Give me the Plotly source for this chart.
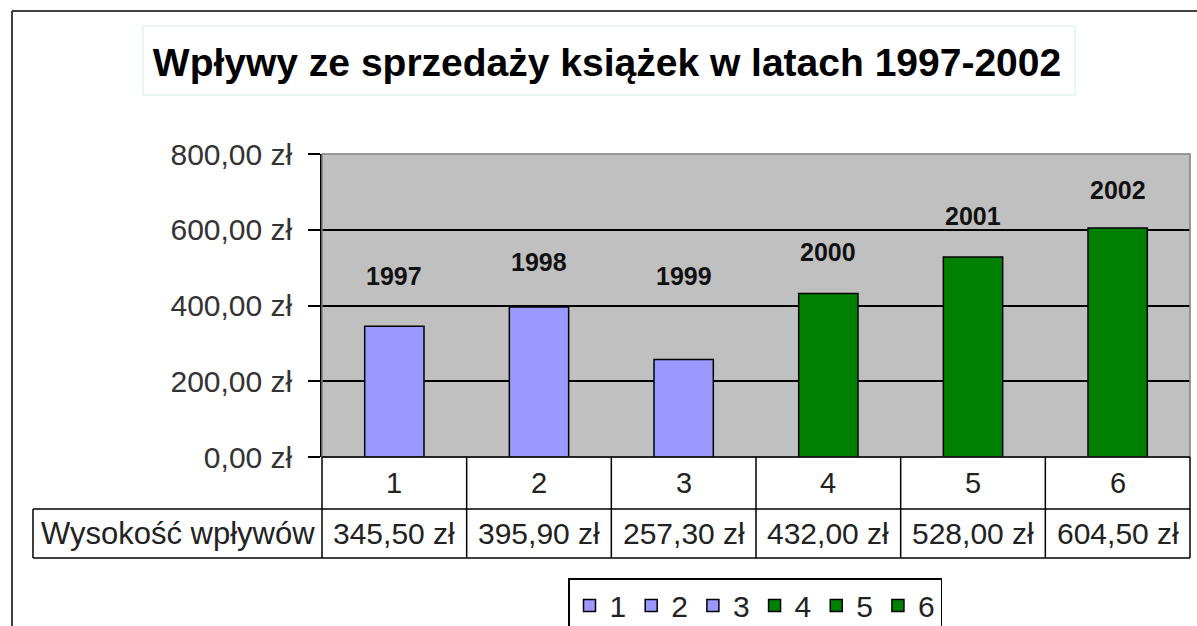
import plotly.graph_objects as go

# ---- data ----
categories = ["1", "2", "3", "4", "5", "6"]
years = ["1997", "1998", "1999", "2000", "2001", "2002"]
values = [345.50, 395.90, 257.30, 432.00, 528.00, 604.50]
row_label = "Wysokość wpływów"
y_tickvals = [0, 200, 400, 600, 800]
y_ticktext = ["0,00 zł", "200,00 zł", "400,00 zł", "600,00 zł", "800,00 zł"]
title_text = "Wpływy ze sprzedaży książek w latach 1997-2002"

# ---- style ----
bar_colors = ["#9999FF", "#9999FF", "#9999FF", "#008000", "#008000", "#008000"]
year_label_y = [479, 514, 479, 540, 636, 704]  # label positions (axis units)
FONT = "Liberation Sans, Arial, sans-serif"
W, H = 1197, 626
L, R, T, B = 322, 7, 154, 169
plot_h = H - T - B
ncat = len(categories)


def py(p):
    """pixel y -> paper y"""
    return (H - B - p) / plot_h


def px(p):
    """pixel x -> paper x"""
    return (p - L) / (W - L - R)


def cx(d):
    """category coordinate -> paper x (x range is [-0.5, n-0.5])"""
    return (d + 0.5) / ncat


def fmt(v):
    return f"{v:.2f}".replace(".", ",") + " zł"


fig = go.Figure()
for i, (c, v) in enumerate(zip(categories, values)):
    fig.add_trace(go.Bar(
        x=[i], y=[v], name=c, width=0.41,
        marker=dict(color=bar_colors[i], line=dict(color="black", width=1.5)),
        hoverinfo="skip",
    ))

annotations = []
# year labels above bars
for i, yr in enumerate(years):
    annotations.append(dict(x=i, y=year_label_y[i], xref="x", yref="y", text=f"<b>{yr}</b>",
                            showarrow=False, xanchor="center", yanchor="middle",
                            font=dict(family=FONT, size=25, color="#111111")))

row1_mid = py((457 + 509) / 2)
row2_mid = py((509 + 558) / 2)
row1_bot = py(509)
row2_bot = py(558)
left_edge = px(33)
for i, c in enumerate(categories):
    annotations.append(dict(x=cx(i), y=row1_mid, xref="paper", yref="paper", text=c, showarrow=False,
                            xanchor="center", yanchor="middle",
                            font=dict(family=FONT, size=29, color="#222222")))
    annotations.append(dict(x=cx(i), y=row2_mid, xref="paper", yref="paper", text=fmt(values[i]),
                            showarrow=False, xanchor="center", yanchor="middle",
                            font=dict(family=FONT, size=30, color="#222222")))
annotations.append(dict(x=(left_edge + 0) / 2, y=row2_mid, xref="paper", yref="paper", text=row_label,
                        showarrow=False, xanchor="center", yanchor="middle",
                        font=dict(family=FONT, size=31, color="#222222")))

shapes = []
lw = 1.5
# plot area border (grey top / right)
shapes.append(dict(type="rect", xref="paper", yref="paper", x0=0, x1=1, y0=0, y1=1,
                   line=dict(color="#808080", width=1.5), layer="above"))
# table horizontal lines
shapes.append(dict(type="line", xref="paper", yref="paper", x0=left_edge, x1=1, y0=row1_bot, y1=row1_bot,
                   line=dict(color="black", width=lw)))
shapes.append(dict(type="line", xref="paper", yref="paper", x0=left_edge, x1=1, y0=row2_bot, y1=row2_bot,
                   line=dict(color="black", width=lw)))
shapes.append(dict(type="line", xref="paper", yref="paper", x0=0, x1=1, y0=0, y1=0,
                   line=dict(color="black", width=lw)))
# table vertical lines
shapes.append(dict(type="line", xref="paper", yref="paper", x0=left_edge, x1=left_edge, y0=row1_bot, y1=row2_bot,
                   line=dict(color="black", width=lw)))
for k in range(ncat + 1):
    xv = cx(k - 0.5)
    shapes.append(dict(type="line", xref="paper", yref="paper", x0=xv, x1=xv, y0=0, y1=row2_bot,
                       line=dict(color="black", width=lw)))
# outer chart border (top and left)
shapes.append(dict(type="line", xref="paper", yref="paper", x0=px(12), x1=px(1200), y0=py(11), y1=py(11),
                   line=dict(color="#404040", width=2)))
shapes.append(dict(type="line", xref="paper", yref="paper", x0=px(12), x1=px(12), y0=py(11), y1=py(630),
                   line=dict(color="#404040", width=2)))
# faint title box
shapes.append(dict(type="rect", xref="paper", yref="paper", x0=px(143), x1=px(1075), y0=py(95), y1=py(26),
                   line=dict(color="#e4f2f6", width=1.5)))

fig.update_layout(
    width=W, height=H,
    margin=dict(l=L, r=R, t=T, b=B, autoexpand=False),
    paper_bgcolor="white",
    plot_bgcolor="#C0C0C0",
    barmode="overlay",
    title=dict(text=f"<b>{title_text}</b>", x=607 / W, xanchor="center", y=1 - 62 / H, yanchor="middle",
               font=dict(family=FONT, size=39, color="black")),
    xaxis=dict(range=[-0.5, ncat - 0.5], showticklabels=False, showgrid=False, zeroline=False,
               ticks="", showline=False, fixedrange=True),
    yaxis=dict(range=[0, 800], tickvals=y_tickvals, ticktext=y_ticktext,
               ticks="outside", ticklen=12, tickwidth=1.5, tickcolor="black",
               showline=True, linecolor="black", linewidth=1.5,
               showgrid=True, gridcolor="black", gridwidth=1.5, zeroline=False,
               tickfont=dict(family=FONT, size=30, color="#333333"), ticklabelstandoff=10,
               fixedrange=True),
    legend=dict(orientation="h", x=px(755), xanchor="center", y=py(578), yanchor="top",
                bordercolor="black", borderwidth=1.5, bgcolor="white",
                font=dict(family=FONT, size=30, color="#222222"), itemwidth=30, traceorder="normal"),
    annotations=annotations,
    shapes=shapes,
    showlegend=True,
)

fig.write_html("out.html", config={"displayModeBar": False})

# remove default page margin so the figure sits at the window's top-left corner
with open("out.html", "r", encoding="utf-8") as f:
    html = f.read()
html = html.replace("<body>", '<body style="margin:0;padding:0;overflow:hidden">', 1)
with open("out.html", "w", encoding="utf-8") as f:
    f.write(html)
